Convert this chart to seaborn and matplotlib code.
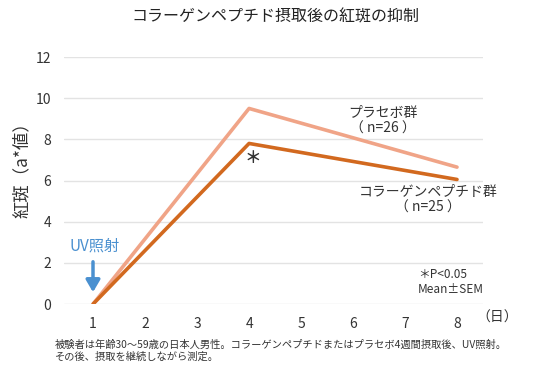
import matplotlib
matplotlib.use("Agg")
import matplotlib.pyplot as plt
import seaborn as sns
import pandas as pd

days = [1, 4, 8]
placebo = [0.0, 9.5, 6.65]
collagen = [0.0, 7.8, 6.05]
x_ticks = [1, 2, 3, 4, 5, 6, 7, 8]
y_ticks = [0, 2, 4, 6, 8, 10, 12]
y_tick_labels = ["0", "2", "4", "6", "8", "10", "12"]

sns.set_theme(style="white")
plt.rcParams['font.family'] = ['Noto Sans CJK JP', 'DejaVu Sans']

df = pd.DataFrame({
    "day": days * 2,
    "value": placebo + collagen,
    "group": ["placebo"] * 3 + ["collagen"] * 3,
})

fig = plt.figure(figsize=(5.5, 3.72), dpi=100)
ax = fig.add_axes([64 / 550, 1 - 304 / 372, (483 - 64) / 550, (304 - 57) / 372])

sns.lineplot(data=df, x="day", y="value", hue="group",
             palette={"placebo": "#F0A487", "collagen": "#D2691F"},
             linewidth=2.6, legend=False, ax=ax)

ax.set_xlim(0.44, 8.5)
ax.set_ylim(0, 12)
ax.set_xticks(x_ticks)
ax.set_yticks(y_ticks)
ax.set_yticklabels(y_tick_labels)
ax.grid(axis="y", color="#E3E3E3", linewidth=1)
ax.set_axisbelow(True)
for s in ax.spines.values():
    s.set_visible(False)
ax.tick_params(axis="both", length=0, labelsize=10, colors="#333333")
ax.tick_params(axis="x", pad=9)
ax.tick_params(axis="y", pad=9)
ax.set_xlabel("")
ax.set_ylabel("")

fig.text(0.5, 1 - 17 / 372, "コラーゲンペプチド摂取後の紅斑の抑制", ha="center", va="center",
         fontsize=11.5, color="#222222")
fig.text(22 / 550, 1 - 166 / 372, "紅斑（a*値）", rotation=90, ha="center", va="center",
         fontsize=12.5, color="#333333")

fig.text(383 / 550, 1 - 121 / 372, "プラセボ群\n（ n=26 ）", fontsize=10,
         color="#333333", ha="center", va="center", linespacing=1.2)
fig.text(428 / 550, 1 - 200 / 372, "コラーゲンペプチド群\n（ n=25 ）", fontsize=10,
         color="#333333", ha="center", va="center", linespacing=1.2)
fig.text(253 / 550, 1 - 158 / 372, "＊", fontsize=12, color="#333333",
         ha="center", va="center", fontweight="bold")
fig.text(418 / 550, 1 - 282 / 372, "＊P<0.05\nMean±SEM", fontsize=8.5,
         color="#333333", ha="left", va="center", linespacing=1.2)
fig.text(497 / 550, 1 - 318 / 372, "（日）", fontsize=10, color="#333333",
         ha="center", va="center")
fig.text(95 / 550, 1 - 246 / 372, "UV照射", fontsize=11, color="#4A90D0",
         ha="center", va="center")
ax.annotate("", xy=(93 / 550, 1 - 295 / 372), xytext=(93 / 550, 1 - 259 / 372),
            xycoords="figure fraction", textcoords="figure fraction",
            annotation_clip=False,
            arrowprops=dict(arrowstyle="-|>,head_width=0.35,head_length=0.6",
                            color="#4A90D0", lw=2.5))
fig.text(55 / 550, 1 - 351 / 372,
         "被験者は年齢30～59歳の日本人男性。コラーゲンペプチドまたはプラセボ4週間摂取後、UV照射。\nその後、摂取を継続しながら測定。",
         fontsize=7.4, color="#333333", ha="left", va="center", linespacing=1.15)

fig.savefig("out.png", dpi=100)
